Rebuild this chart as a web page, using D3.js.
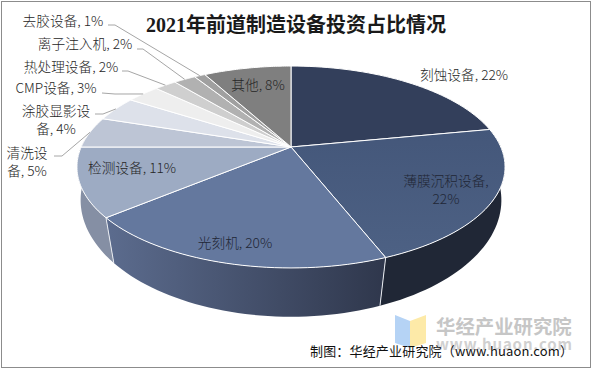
<!DOCTYPE html>
<html>
<head>
<meta charset="utf-8">
<script src="https://cdn.jsdelivr.net/npm/d3@7"></script>
<style>
    html, body { margin: 0; padding: 0; background: #fff; }
    svg { display: block; }
    text { font-family: "Noto Sans CJK SC", "Noto Sans", sans-serif; }
</style>
</head>
<body>
<div id="chart"></div>
<script>
// Values, clockwise from 12 o'clock
const categories = ['刻蚀设备', '薄膜沉积设备', '光刻机', '检测设备', '清洗设备', '涂胶显影设备', 'CMP设备', '热处理设备', '离子注入机', '去胶设备', '其他'];
const shares = [22, 22, 20, 11, 5, 4, 3, 2, 2, 1, 8];
const topColors = ['#333f5b', '#475a7b', '#64789e', '#9dabc3', '#bdc5d5', '#dde1ea', '#eeeeee', '#cfcfcf', '#b1b1b1', '#a0a0a0', '#7f7f7f'];
const sideColors = ['#1f2635', '#202736', '#3f4a64', '#858fa4', '#9aa3b5', '#b0b6c2', '#c0c0c0', '#a8a8a8', '#8e8e8e', '#808080', '#606060'];

// label line breaks, text centre x / first baseline, leader elbow (only outside labels)
const labelLayout = [
    { lines: ['刻蚀设备, 22%'], x: 464, y: 80 },
    { lines: ['薄膜沉积设备,', '22%'], x: 446, y: 186 },
    { lines: ['光刻机, 20%'], x: 235, y: 248 },
    { lines: ['检测设备, 11%'], x: 132, y: 173 },
    { lines: ['清洗设', '备, 5%'], x: 27, y: 158, elbow: [[54, 156], [62, 156]] },
    { lines: ['涂胶显影设', '备, 4%'], x: 56, y: 116, elbow: [[95, 114], [103, 114]] },
    { lines: ['CMP设备, 3%'], x: 56, y: 93, elbow: [[102, 93], [115, 94]] },
    { lines: ['热处理设备, 2%'], x: 71, y: 72, elbow: [[122, 71], [128, 71]] },
    { lines: ['离子注入机, 2%'], x: 85, y: 49, elbow: [[137, 49], [143, 49]] },
    { lines: ['去胶设备, 1%'], x: 63, y: 26, elbow: [[108, 25], [115, 25]] },
    { lines: ['其他, 8%'], x: 258, y: 90 }
];

const width = 593;
const height = 370;

const svg = d3.select('#chart')
    .append('svg')
    .attr('width', width)
    .attr('height', height);

// Perspective tilt of a flat disc: circle point -> screen
function project(angle, disc) {
    const cx = Math.sin(angle);
    const cy = -Math.cos(angle);
    const w = 1 - disc.k * cy;
    return [disc.x + disc.a * cx / w, disc.y + disc.b * cy / w];
}
const topDisc = { x: 291, y: 147, a: 209.8, b: 97, k: 0.198 };
const bottomDisc = { x: 291, y: 182.6, a: 208, b: 114, k: 0.15 };

const pie = d3.pie().sort(null).value(d => d);
const arcs = pie(shares);
const line = d3.line();

function arcPoints(a0, a1, disc) {
    return d3.range(0, 41).map(i => project(a0 + (a1 - a0) * i / 40, disc));
}

const defs = svg.append('defs');
const sideGrad = defs.append('linearGradient')
    .attr('id', 'side-litho')
    .attr('gradientUnits', 'userSpaceOnUse')
    .attr('x1', 111).attr('x2', 385).attr('y1', 0).attr('y2', 0);
sideGrad.append('stop').attr('offset', 0).attr('stop-color', '#5b6b8d');
sideGrad.append('stop').attr('offset', 1).attr('stop-color', '#2f374c');

const film = defs.append('linearGradient')
    .attr('id', 'top-film')
    .attr('x1', 0).attr('x2', 0).attr('y1', 0).attr('y2', 1);
film.append('stop').attr('offset', 0).attr('stop-color', '#44577a');
film.append('stop').attr('offset', 1).attr('stop-color', '#4d6184');

const g = svg.append('g');

// side wall, only the arc facing the viewer
const frontStart = Math.PI / 2 - 0.1;
const frontEnd = 3 * Math.PI / 2 + 0.1;
arcs.forEach((d, i) => {
    const a0 = Math.max(d.startAngle, frontStart);
    const a1 = Math.min(d.endAngle, frontEnd);
    if (a1 <= a0) return;
    const pts = arcPoints(a0, a1, topDisc).concat(arcPoints(a0, a1, bottomDisc).reverse());
    g.append('path')
        .attr('d', line(pts) + 'Z')
        .attr('fill', i === 2 ? 'url(#side-litho)' : sideColors[i])
        .attr('stroke', 'none');
});

// white seams on the wall
[arcs[1].endAngle, arcs[2].endAngle].forEach(a => {
    g.append('path')
        .attr('d', line([project(a, topDisc), project(a, bottomDisc)]))
        .attr('stroke', '#e8ebf0')
        .attr('stroke-width', 1)
        .attr('fill', 'none');
});

// top face
g.selectAll('.slice')
    .data(arcs)
    .join('path')
    .attr('class', 'slice')
    .attr('d', d => line([[topDisc.x, topDisc.y]].concat(arcPoints(d.startAngle, d.endAngle, topDisc))) + 'Z')
    .attr('fill', (d, i) => i === 1 ? 'url(#top-film)' : topColors[i])
    .attr('stroke', '#fff')
    .attr('stroke-width', 1)
    .attr('stroke-linejoin', 'round');

// leader lines end on the rim at each slice's mid angle
arcs.forEach((d, i) => {
    const elbow = labelLayout[i].elbow;
    if (!elbow) return;
    const rim = project((d.startAngle + d.endAngle) / 2, topDisc);
    g.append('path')
        .attr('d', line(elbow.concat([rim])))
        .attr('fill', 'none')
        .attr('stroke', '#a6a6a6')
        .attr('stroke-width', 1);
});

// watermark
const logo = svg.append('g');
logo.append('path')
    .attr('d', 'M395,315L410,321V348L395,343Z')
    .attr('fill', '#b5d3f5');
logo.append('path')
    .attr('d', 'M410,321L426,315V343L410,348Z')
    .attr('fill', '#fdeaa8');
svg.append('text')
    .attr('x', 436).attr('y', 334)
    .attr('font-size', 19.4)
    .attr('font-weight', 700)
    .attr('fill', '#c6c6c6')
    .text('华经产业研究院');
svg.append('text')
    .attr('x', 436).attr('y', 350)
    .attr('font-size', 15)
    .attr('font-weight', 700)
    .attr('fill', '#d0d0d0')
    .attr('textLength', 136)
    .text('www.huaon.com');

// labels
const labels = svg.append('g')
    .attr('font-size', 13.7)
    .attr('font-weight', 300)
    .attr('fill', '#262626')
    .attr('text-anchor', 'middle');
labelLayout.forEach((d, i) => {
    const t = labels.append('text').attr('x', d.x).attr('y', d.y);
    d.lines.forEach((s, j) => {
        t.append('tspan')
            .attr('x', d.x)
            .attr('dy', j === 0 ? 0 : 18)
            .text(s);
    });
    if (i === 2 || i === 1) t.attr('fill', '#1f2635');
});

// title
svg.append('text')
    .attr('x', 296).attr('y', 32)
    .attr('text-anchor', 'middle')
    .attr('font-size', 20)
    .attr('font-weight', 700)
    .attr('fill', '#1a1a1a')
    .style('font-family', '"Liberation Serif", "Noto Sans CJK SC", serif')
    .text('2021年前道制造设备投资占比情况');

// source line
svg.append('text')
    .attr('x', 310).attr('y', 356)
    .attr('font-size', 13)
    .attr('fill', '#111')
    .attr('textLength', 263)
    .text('制图：华经产业研究院（www.huaon.com）');

// image border
svg.append('rect')
    .attr('x', 1.5).attr('y', 1.5)
    .attr('width', 589).attr('height', 366)
    .attr('fill', 'none')
    .attr('stroke', '#8c8c8c')
    .attr('stroke-width', 1);
</script>
</body>
</html>
